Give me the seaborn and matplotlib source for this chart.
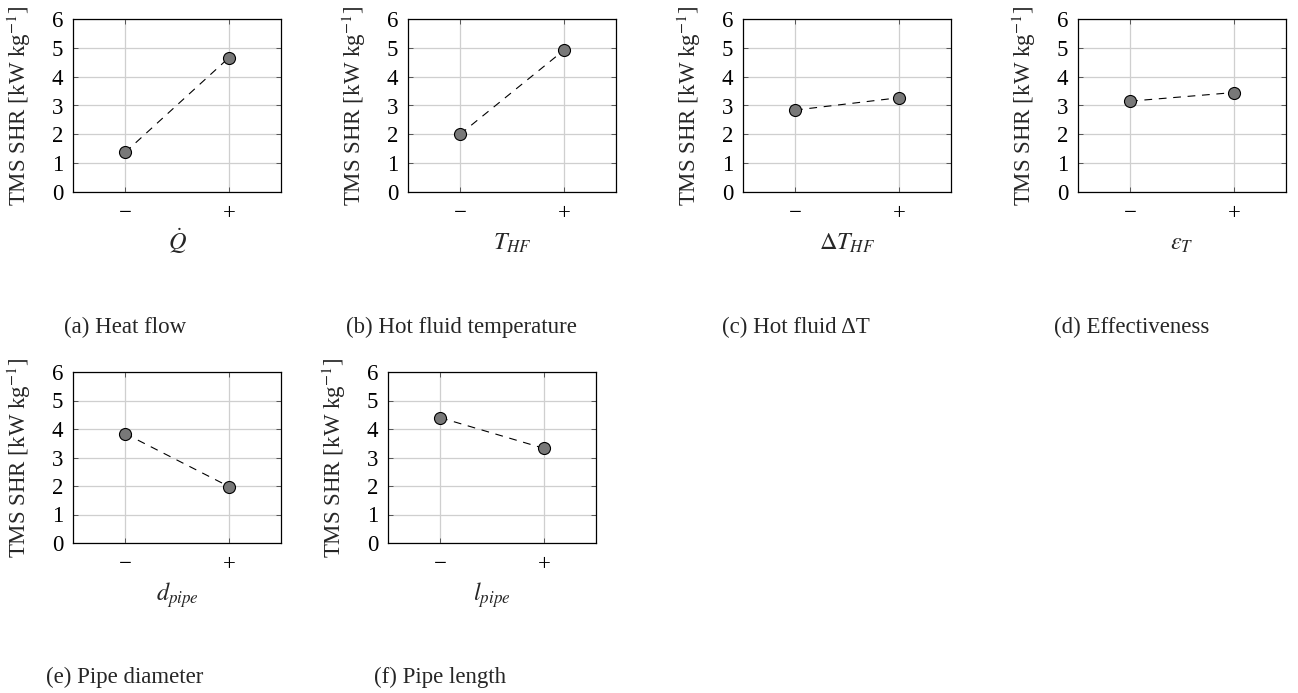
import numpy as np
import pandas as pd
import matplotlib
matplotlib.use("Agg")
import matplotlib.pyplot as plt
import seaborn as sns

# ---------------- data ----------------
levels = ["\u2212", "+"]
heat_flow = [1.37, 4.66]
hot_fluid_temp = [2.00, 4.92]
hot_fluid_dt = [2.84, 3.27]
effectiveness = [3.15, 3.45]
pipe_diameter = [3.84, 1.98]
pipe_length = [4.40, 3.32]

xlabels = [r"$\dot{Q}$", r"$T_{HF}$", r"$\Delta T_{HF}$", r"$\varepsilon_T$",
           r"$d_{pipe}$", r"$l_{pipe}$"]
captions = ["(a) Heat flow", "(b) Hot fluid temperature", "(c) Hot fluid \u0394T",
            "(d) Effectiveness", "(e) Pipe diameter", "(f) Pipe length"]
ylabel = r"TMS SHR [kW kg$^{-1}$]"
yticks = [0, 1, 2, 3, 4, 5, 6]

series = [heat_flow, hot_fluid_temp, hot_fluid_dt, effectiveness, pipe_diameter, pipe_length]

# ---------------- style ----------------
sns.set_theme(style="whitegrid")
plt.rcParams["font.family"] = ["Liberation Serif", "DejaVu Serif"]
plt.rcParams["mathtext.fontset"] = "stix"
plt.rcParams["axes.unicode_minus"] = True

W, H = 1298, 693
fig = plt.figure(figsize=(W / 100, H / 100), dpi=100)

# axes boxes in pixels: (left, top, width, height)
boxes = [(73, 19, 208, 173), (408, 19, 208, 173), (743, 19, 208, 173), (1078, 19, 208, 173),
         (73, 372, 208, 171), (388, 372, 208, 171)]
cap_pos = [(125, 333), (461, 333), (796, 333), (1132, 333), (125, 683), (440, 683)]

FS = 16.5
for i, vals in enumerate(series):
    l, t, w, h = boxes[i]
    ax = fig.add_axes([l / W, 1 - (t + h) / H, w / W, h / H])
    df = pd.DataFrame({"level": levels, "value": vals})
    sns.lineplot(data=df, x="level", y="value", ax=ax, color="black",
                 linewidth=0.8, dashes=False, sort=False, zorder=2)
    ax.lines[0].set_dashes((7, 6))
    sns.scatterplot(data=df, x="level", y="value", ax=ax, s=75,
                    color="#787878", edgecolor="black", linewidth=0.8, zorder=3)
    ax.set_xlim(-0.5, 1.5)
    ax.set_ylim(0, 6)
    ax.set_yticks(yticks)
    ax.set_facecolor("white")
    ax.grid(True, color="#cfcfcf", linewidth=0.9)
    ax.set_axisbelow(True)
    for sp in ax.spines.values():
        sp.set_visible(True)
        sp.set_color("black")
        sp.set_linewidth(0.9)
    ax.tick_params(axis="both", which="major", direction="in", length=3.5, width=0.7,
                   color="#555555", labelsize=FS, top=True, right=True,
                   bottom=True, left=True, labelcolor="black")
    ax.tick_params(axis="y", pad=7)
    ax.tick_params(axis="x", pad=8)
    ax.set_ylabel(ylabel, fontsize=FS)
    ax.yaxis.set_label_coords(-40 / w, 0.5)
    ax.set_xlabel(xlabels[i], fontsize=17.5)
    ax.xaxis.label.set_va("baseline")
    ax.xaxis.set_label_coords(0.5, -58 / h)
    cx, cy = cap_pos[i]
    fig.text(cx / W, 1 - cy / H, captions[i], ha="center", va="baseline", fontsize=FS)

fig.savefig("out.png", dpi=100, facecolor="white")
